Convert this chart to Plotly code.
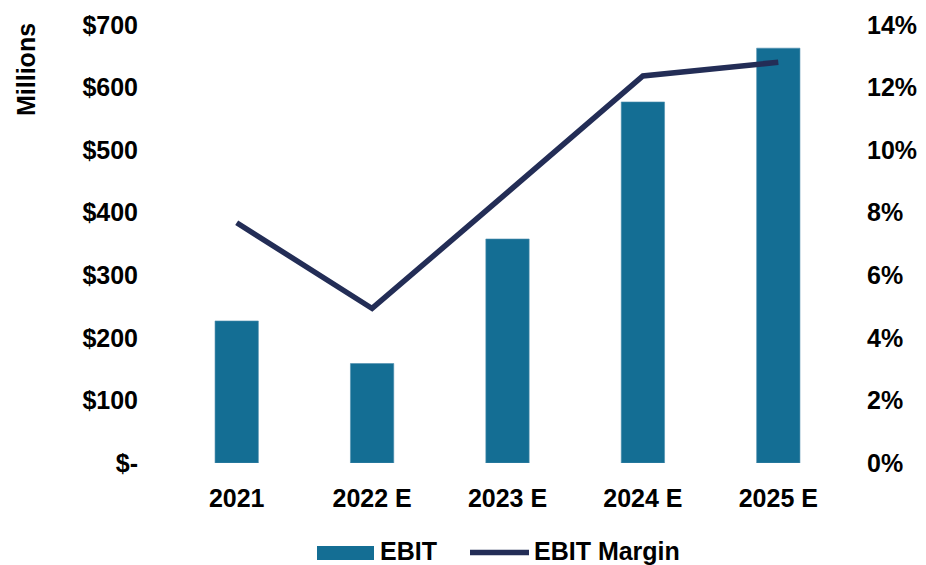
import plotly.graph_objects as go

# EBIT ($ millions) and EBIT margin (%) by year
years = ["2021", "2022 E", "2023 E", "2024 E", "2025 E"]
ebit = [227, 159, 358, 577, 663]
ebit_margin = [7.68, 4.94, 8.65, 12.37, 12.81]

left_ticks = [0, 100, 200, 300, 400, 500, 600, 700]
left_labels = ["$-", "$100", "$200", "$300", "$400", "$500", "$600", "$700"]
right_ticks = [0, 2, 4, 6, 8, 10, 12, 14]
right_labels = ["0%", "2%", "4%", "6%", "8%", "10%", "12%", "14%"]

BAR_COLOR = "#146E94"
LINE_COLOR = "#232D56"
FONT = "Liberation Sans, Arial, sans-serif"

W, H = 926, 565
ML, MR, MT, MB = 169, 80, 25, 102
PW, PH = W - ML - MR, H - MT - MB

fig = go.Figure()
fig.add_trace(go.Bar(
    x=years, y=ebit, name="EBIT", marker_color=BAR_COLOR,
    marker_line=dict(color="#4F8EAE", width=0.6), yaxis="y",
))
fig.add_trace(go.Scatter(
    x=years, y=ebit_margin, name="EBIT Margin", mode="lines",
    line=dict(color=LINE_COLOR, width=5.5), yaxis="y2",
))

tick_font = dict(family=FONT, size=25, color="#000000", weight="bold")

fig.update_layout(
    width=W, height=H,
    margin=dict(l=ML, r=MR, t=MT, b=MB, autoexpand=False),
    paper_bgcolor="white", plot_bgcolor="white",
    showlegend=False,
    bargap=0.68,
    xaxis=dict(
        type="category", range=[-0.5, 4.5], showgrid=False, zeroline=False,
        showline=False, ticks="", automargin=False,
        tickfont=dict(family=FONT, size=25, color="#000000", weight="bold"),
        ticklabelstandoff=18,
    ),
    yaxis=dict(
        range=[0, 700], tickvals=left_ticks, ticktext=left_labels,
        showgrid=False, zeroline=False, showline=False, ticks="", automargin=False,
        tickfont=tick_font, ticklabelstandoff=30,
    ),
    yaxis2=dict(
        range=[0, 14], tickvals=right_ticks, ticktext=right_labels,
        overlaying="y", side="right", showgrid=False, zeroline=False,
        showline=False, ticks="", automargin=False,
        tickfont=tick_font, ticklabelstandoff=20,
    ),
)

# axis title placed at the top of the left axis
fig.add_annotation(
    text="Millions", textangle=-90, showarrow=False,
    xref="paper", yref="paper",
    x=(26 - ML) / PW, y=(H - MB - 70) / PH, xanchor="center", yanchor="middle",
    font=dict(family=FONT, size=25, color="#000000", weight="bold"),
)

# legend drawn below the axis: swatches plus labels
def px_x(v):
    return (v - ML) / PW

def px_y(v):
    return (H - MB - v) / PH

legend_font = dict(family=FONT, size=25, color="#000000", weight="bold")
fig.add_shape(type="rect", xref="paper", yref="paper",
              x0=px_x(317), x1=px_x(374), y0=px_y(560), y1=px_y(546),
              fillcolor=BAR_COLOR, line=dict(width=0))
fig.add_annotation(text="EBIT", showarrow=False, xref="paper", yref="paper",
                   x=px_x(378), y=px_y(551), xanchor="left", yanchor="middle",
                   font=legend_font)
fig.add_shape(type="line", xref="paper", yref="paper",
              x0=px_x(470), x1=px_x(529), y0=px_y(552.5), y1=px_y(552.5),
              line=dict(color=LINE_COLOR, width=5.5))
fig.add_annotation(text="EBIT Margin", showarrow=False, xref="paper", yref="paper",
                   x=px_x(532), y=px_y(551), xanchor="left", yanchor="middle",
                   font=legend_font)

fig.write_html("out.html")
